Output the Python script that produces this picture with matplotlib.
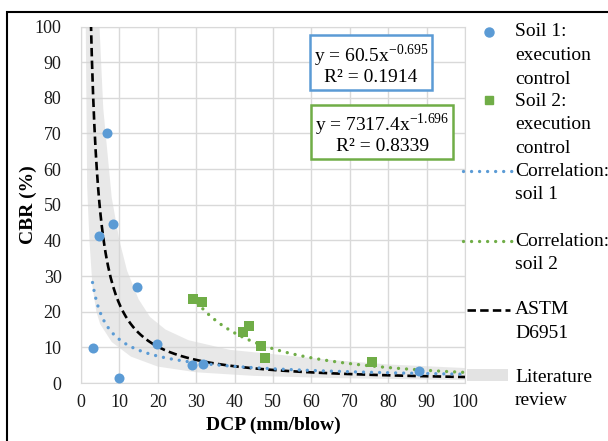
import numpy as np
import matplotlib
matplotlib.use("Agg")
import matplotlib.pyplot as plt
from matplotlib.lines import Line2D
from matplotlib.patches import Rectangle

plt.rcParams['font.family'] = ['Liberation Serif', 'DejaVu Serif']
plt.rcParams['mathtext.fontset'] = 'custom'
plt.rcParams['mathtext.rm'] = 'Liberation Serif'

BLUE = '#5B9BD5'
GREEN = '#70AD47'
GRID = '#d9d9d9'

# measured points
soil1_dcp = [3.2, 4.8, 6.7, 8.4, 10.0, 14.7, 19.7, 28.8, 31.9, 88.1]
soil1_cbr = [9.7, 41.2, 70.0, 44.5, 1.3, 26.8, 10.9, 5.0, 5.3, 3.5]
soil2_dcp = [29.2, 31.6, 42.1, 43.8, 47.0, 47.9, 75.7]
soil2_cbr = [23.6, 22.8, 14.4, 16.1, 10.4, 6.9, 5.8]

# power trendlines (coefficients shown on the chart)
fit1 = (60.5, -0.695)
fit2 = (7317.4, -1.696)
fit1_range = (3.0, 100.0)
fit2_range = (29.0, 100.0)
astm = (292.0, -1.12)

# literature review band, edges
band_up_x = [4.6, 5.8, 8.0, 10.0, 12.0, 15.0, 18.0, 22.0, 28.0, 38.8, 51.8, 64.8, 80.0, 100.0]
band_up_y = [105, 77, 52, 40, 31.5, 23.5, 18.5, 15.0, 12.0, 9.3, 7.9, 6.5, 5.2, 4.2]
band_lo_x = [1.2, 1.6, 2.2, 3.0, 4.0, 5.0, 8.0, 13.0, 20.0, 30.0, 45.0, 65.0, 100.0]
band_lo_y = [105, 55, 40, 27, 20, 16.5, 11.5, 7.4, 4.6, 3.0, 2.0, 1.4, 0.8]

W, H = 608, 441
fig = plt.figure(figsize=(W / 100, H / 100), dpi=100)
ax = fig.add_axes([81 / W, 1 - 383 / H, (465 - 81) / W, (383 - 26.5) / H])

def px(x, y):
    return x / W, 1 - y / H

ax.fill(np.concatenate([band_up_x, band_lo_x[::-1]]),
        np.concatenate([band_up_y, band_lo_y[::-1]]),
        color='#d6d6d6', alpha=0.55, lw=0, zorder=1)

xa = np.linspace(2.5, 100, 300)
ax.plot(xa, astm[0] * xa ** astm[1], color='black', lw=1.9,
        ls=(0, (3.2, 1.6)), zorder=3)

DOT = (0, (0.01, 2.4))
x1 = np.linspace(*fit1_range, 200)
ax.plot(x1, fit1[0] * x1 ** fit1[1], color=BLUE, lw=2.4,
        ls=DOT, dash_capstyle='round', zorder=4)
x2 = np.linspace(*fit2_range, 200)
ax.plot(x2, fit2[0] * x2 ** fit2[1], color=GREEN, lw=2.4,
        ls=DOT, dash_capstyle='round', zorder=4)

ax.scatter(soil1_dcp, soil1_cbr, s=52, color=BLUE, zorder=5, lw=0)
ax.scatter(soil2_dcp, soil2_cbr, s=48, marker='s', color=GREEN, zorder=5, lw=0)

ax.set_xlim(0, 100)
ax.set_ylim(0, 100)
ax.set_xticks(range(0, 101, 10))
ax.set_yticks(range(0, 101, 10))
ax.grid(True, color=GRID, lw=1)
ax.set_axisbelow(True)
for s in ax.spines.values():
    s.set_color(GRID)
ax.tick_params(length=0, labelsize=13, colors='#1a1a1a', pad=8)
ax.tick_params(axis='y', pad=14)
ax.set_xlabel('DCP (mm/blow)', fontsize=14, fontweight='bold', labelpad=4)
ax.set_ylabel('CBR (%)', fontsize=14, fontweight='bold', labelpad=-2)

ax.text(75.5, 89.5, 'y = 60.5x$^{\\mathregular{-0.695}}$\nR² = 0.1914', ha='center', va='center',
        fontsize=14, linespacing=1.0,
        bbox=dict(boxstyle='square,pad=0.2', fc='white', ec=BLUE, lw=1.8), zorder=6)
ax.text(78.5, 70.0, 'y = 7317.4x$^{\\mathregular{-1.696}}$\nR² = 0.8339', ha='center', va='center',
        fontsize=14, linespacing=1.0,
        bbox=dict(boxstyle='square,pad=0.2', fc='white', ec=GREEN, lw=1.8), zorder=6)

# legend, drawn by hand so each key sits on its first text line
tx = 515
def leg_text(lines, y0):
    for i, t in enumerate(lines):
        fig.text(*px(tx, y0 + i * 23.5), t, fontsize=14, va='center', ha='left')

fig.add_artist(Line2D([px(489, 32)[0]], [px(489, 32)[1]], marker='o', ms=6.5,
                      color=BLUE, mec=BLUE, ls='none'))
leg_text(['Soil 1:', 'execution', 'control'], 32)
fig.add_artist(Line2D([px(489, 100)[0]], [px(489, 100)[1]], marker='s', ms=6,
                      color=GREEN, mec=GREEN, ls='none'))
leg_text(['Soil 2:', 'execution', 'control'], 101)
fig.add_artist(Line2D([px(463, 0)[0], px(512, 0)[0]], [px(0, 171)[1]] * 2, color=BLUE,
                      lw=2.4, ls=DOT, dash_capstyle='round'))
leg_text(['Correlation:', 'soil 1'], 171)
fig.add_artist(Line2D([px(463, 0)[0], px(512, 0)[0]], [px(0, 241)[1]] * 2, color=GREEN,
                      lw=2.4, ls=DOT, dash_capstyle='round'))
leg_text(['Correlation:', 'soil 2'], 241)
fig.add_artist(Line2D([px(467, 0)[0], px(510, 0)[0]], [px(0, 310)[1]] * 2, color='black',
                      lw=1.9, ls=(0, (3.2, 1.6))))
leg_text(['ASTM', 'D6951'], 310)
fig.add_artist(Rectangle(px(467, 381), 41 / W, 12 / H, color='#e3e3e3', lw=0))
leg_text(['Literature', 'review'], 377)

# chart border (only top and left edges fall inside the image)
fig.add_artist(Rectangle(px(7, 600), 2, (600 - 12) / H, fill=False, ec='black', lw=1.5))

fig.savefig('out.png', dpi=100)
